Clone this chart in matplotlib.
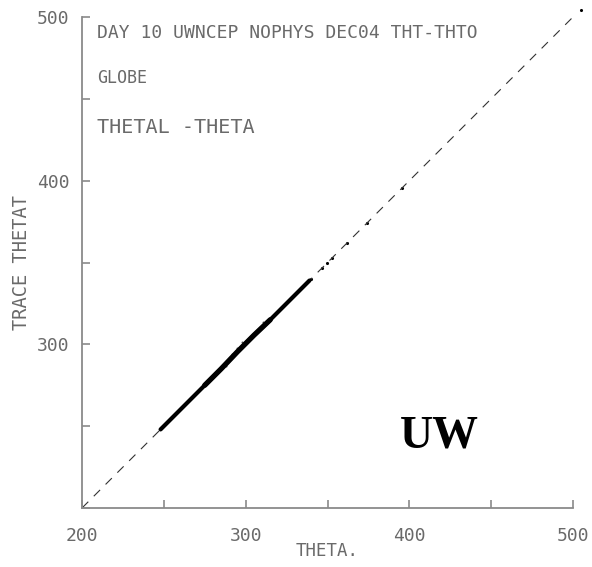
import numpy as np
import matplotlib
matplotlib.use("Agg")
import matplotlib.pyplot as plt

# main dense band of trace-vs-theta points (read along the diagonal)
band_theta = [248, 255, 265, 275, 285, 295, 305, 315, 325, 335, 339]
band_trace = [248, 255, 265, 275, 285, 295.5, 305.5, 315, 325, 335, 339]

# sparse points above the band
sparse_theta = [340, 346.5, 349.7, 353, 362, 374, 395.5, 505]
sparse_trace = [340, 346.5, 349.7, 353, 362, 374, 395.5, 504]

# slightly off-diagonal specks in the middle of the band
speck_theta = [294.7, 297.7, 310.6, 291.5, 303.0, 288.0]
speck_trace = [297.7, 301.4, 313.6, 294.0, 305.2, 286.5]

ref_line = [200, 500]

major_ticks = [200, 300, 400, 500]
minor_ticks = [250, 350, 450]
xtick_labels = ["200", "300", "400", "500"]
ytick_labels = ["", "300", "400", "500"]

header = ["DAY 10 UWNCEP NOPHYS DEC04 THT-THTO", "GLOBE", "THETAL -THETA"]

grey = "#6a6a6a"
mono = "DejaVu Sans Mono"

fig = plt.figure(figsize=(5.92, 5.67), dpi=100)
ax = fig.add_axes([82/592, 59/567, 491/592, 491/567])

# 1:1 reference line
ax.plot(ref_line, ref_line, color="#333333", lw=0.8, dashes=(8, 7))

# dense band: thick stroke plus a thinner core
ax.plot(band_theta, band_trace, color="black", lw=3.0, solid_capstyle="round")
ax.plot(band_theta[3:8], band_trace[3:8], color="black", lw=3.8, solid_capstyle="round")
ax.scatter(speck_theta, speck_trace, s=2, color="#555555", lw=0)
ax.scatter(sparse_theta, sparse_trace, s=5, color="black", lw=0, clip_on=False)

ax.set_xlim(200, 500)
ax.set_ylim(200, 500)

for s in ["top", "right"]:
    ax.spines[s].set_visible(False)
for s in ["left", "bottom"]:
    ax.spines[s].set_color("#8a8a8a")
    ax.spines[s].set_linewidth(1.3)

ax.set_xticks(major_ticks)
ax.set_yticks(major_ticks)
ax.set_xticks(minor_ticks, minor=True)
ax.set_yticks(minor_ticks, minor=True)
ax.set_xticklabels(xtick_labels)
ax.set_yticklabels(ytick_labels)
ax.tick_params(which="both", direction="in", length=6, width=1.2, color="#8a8a8a",
               labelsize=13, labelcolor=grey)
ax.tick_params(axis="x", pad=14)
ax.tick_params(axis="y", pad=9)
for lab in ax.get_xticklabels() + ax.get_yticklabels():
    lab.set_family(mono)

ax.set_xlabel("THETA.", family=mono, fontsize=12.5, color=grey, va="center")
ax.xaxis.set_label_coords(0.5, -0.087)
ax.set_ylabel("TRACE THETAT", family=mono, fontsize=13.5, color=grey, labelpad=4)

ax.text(0.0305, 0.957, header[0], transform=ax.transAxes, family=mono, fontsize=13,
        color=grey, va="baseline")
ax.text(0.0305, 0.866, header[1], transform=ax.transAxes, family=mono, fontsize=12,
        color=grey, va="baseline")
ax.text(0.0305, 0.764, header[2], transform=ax.transAxes, family=mono, fontsize=14.5,
        color=grey, va="baseline")

ax.text(0.648, 0.124, "UW", transform=ax.transAxes, family="Liberation Serif",
        fontsize=33, fontweight="bold", color="black", va="baseline")

fig.savefig("out.png", dpi=100)
